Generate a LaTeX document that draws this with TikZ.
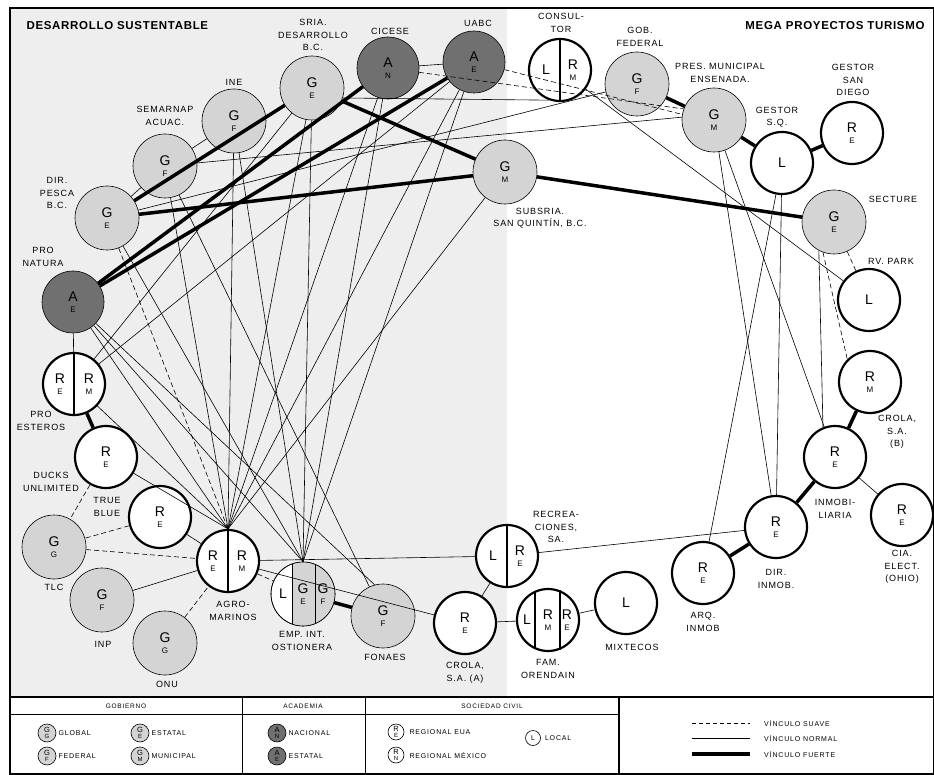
\documentclass[tikz,border=0pt]{standalone}
\usepackage{fontspec}
\setmainfont{Liberation Sans}
\newfontfamily\etfont[LetterSpace=10]{Liberation Sans}
\newfontfamily\titfont[LetterSpace=6]{Liberation Sans}
\newfontfamily\leyfont[LetterSpace=12]{Liberation Sans}
\usepackage{tikz}
\usetikzlibrary{positioning}
\definecolor{fondo}{RGB}{238,238,238}
\definecolor{gobgris}{RGB}{212,212,212}
\definecolor{acagris}{RGB}{112,112,112}
\tikzstyle{Gnodo}=[shape=circle,draw=black,line width=0.6pt,fill=gobgris,minimum size=64pt,inner sep=0pt]
\tikzstyle{Anodo}=[shape=circle,draw=black,line width=0.6pt,fill=acagris,minimum size=62pt,inner sep=0pt]
\tikzstyle{Snodo}=[shape=circle,draw=black,line width=2.2pt,fill=white,minimum size=62pt,inner sep=0pt]
\tikzstyle{etiqueta}=[font=\etfont\fontsize{9}{12.5}\selectfont,align=center,inner sep=0pt]
\tikzstyle{titulo}=[font=\titfont\bfseries\fontsize{11.5}{13}\selectfont]
\tikzstyle{leyenda}=[font=\leyfont\fontsize{7}{8}\selectfont,inner sep=1pt]
\tikzstyle{cabecera}=[font=\leyfont\fontsize{6.5}{8}\selectfont,inner sep=1pt]
\tikzstyle{vsuave}=[dash pattern=on 5pt off 3pt,line width=0.6pt]
\tikzstyle{vnormal}=[line width=0.6pt]
\tikzstyle{vfuerte}=[line width=3.5pt]
\tikzstyle{division}=[line width=1.2pt]
\newcommand{\gletra}[2]{\shortstack{{\fontsize{14}{14}\selectfont #1}\\[2pt]{\fontsize{8}{8}\selectfont #2}}}
\newcommand{\minil}[2]{\shortstack{{\fontsize{7.5}{7.5}\selectfont #1}\\[-0.5pt]{\fontsize{6}{6}\selectfont #2}}}

\begin{document}
\begin{tikzpicture}[x=1pt,y=-1pt]
\useasboundingbox (0,0) rectangle (934,775);
\fill[fondo] (10,8) rectangle (507,697);
\draw[line width=2pt] (10,8) rectangle (934,774);

\node[titulo,anchor=west] (tizq) at (23,26) {DESARROLLO SUSTENTABLE};
\node[titulo,anchor=east] (tder) at (928,26) {MEGA PROYECTOS TURISMO};

% desarrollo sustentable
\node[Gnodo] (sria) at (312,88){\gletra{G}{E}};
\node[Anodo] (cicese) at (388,68){\gletra{A}{N}};
\node[Anodo] (uabc) at (474,62){\gletra{A}{E}};
\node[Gnodo] (ine) at (234,121){\gletra{G}{F}};
\node[Gnodo] (semar) at (165,166){\gletra{G}{F}};
\node[Gnodo] (dirpes) at (107,218){\gletra{G}{E}};
\node[Anodo] (pronat) at (73,302){\gletra{A}{E}};
\node[Snodo] (proest) at (74,384){};
\node[Snodo] (ducks) at (106,457){\gletra{R}{E}};
\node[Snodo] (trueb) at (160,517){\gletra{R}{E}};
\node[Gnodo] (tlc) at (54,547){\gletra{G}{G}};
\node[Gnodo] (inp) at (102,600){\gletra{G}{F}};
\node[Gnodo] (onu) at (165,643){\gletra{G}{G}};
\node[Snodo] (agro) at (228,561){};
\node[Snodo,line width=0.6pt,minimum size=64pt] (empint) at (303,594){};
\node[Gnodo] (fonaes) at (383,616){\gletra{G}{F}};
\node[Snodo] (crolaa) at (465,623){\gletra{R}{E}};
\node[Snodo] (recrea) at (507,556){};
\node[Gnodo] (subsria) at (505,172){\gletra{G}{M}};

% mega proyectos
\node[Snodo] (consul) at (560,70){};
\node[Gnodo] (gobfed) at (637,84){\gletra{G}{F}};
\node[Gnodo] (presmun) at (714,120){\gletra{G}{M}};
\node[Snodo] (gestsq) at (782,163){\fontsize{14}{14}\selectfont L};
\node[Snodo] (gestsd) at (852,133){\gletra{R}{E}};
\node[Gnodo] (secture) at (834,222){\gletra{G}{E}};
\node[Snodo] (rvpark) at (869,300){\fontsize{14}{14}\selectfont L};
\node[Snodo] (crolab) at (870,382){\gletra{R}{M}};
\node[Snodo] (inmob) at (835,457){\gletra{R}{E}};
\node[Snodo] (ciaelec) at (902,515){\gletra{R}{E}};
\node[Snodo] (dirinm) at (776,527){\gletra{R}{E}};
\node[Snodo] (arqinm) at (703,573){\gletra{R}{E}};
\node[Snodo] (mixt) at (626,603){\fontsize{14}{14}\selectfont L};
\node[Snodo] (famor) at (548,620){};

% nodos divididos
\draw[division] (proest.north) -- (proest.south);
\node at ([xshift=-14pt]proest.center) {\gletra{R}{E}};
\node at ([xshift=15pt]proest.center) {\gletra{R}{M}};
\draw[division] (agro.north) -- (agro.south);
\node at ([xshift=-15pt]agro.center) {\gletra{R}{E}};
\node at ([xshift=14pt]agro.center) {\gletra{R}{M}};
\draw[division] (consul.north) -- (consul.south);
\node at ([xshift=-14pt]consul.center) {\fontsize{14}{14}\selectfont L};
\node at ([xshift=13pt]consul.center) {\gletra{R}{M}};
\draw[division] (recrea.north) -- (recrea.south);
\node at ([xshift=-14pt]recrea.center) {\fontsize{14}{14}\selectfont L};
\node at ([xshift=13pt]recrea.center) {\gletra{R}{E}};
\draw[division] (535,590.8) -- (535,649.2);
\draw[division] (560,590.3) -- (560,649.7);
\node at ([xshift=-21pt]famor.center) {\fontsize{14}{14}\selectfont L};
\node at ([xshift=0pt]famor.center) {\gletra{R}{M}};
\node at ([xshift=19pt]famor.center) {\gletra{R}{E}};
\begin{scope}
\clip (303,594) circle (31.7);
\fill[gobgris] (292,560) rectangle (340,630);
\end{scope}
\draw[line width=0.6pt] (303,594) circle (32);
\draw[line width=1pt] (292,564) -- (292,624);
\draw[line width=1pt] (315,564.3) -- (315,623.7);
\node at ([xshift=-20pt]empint.center) {\fontsize{14}{14}\selectfont L};
\node at ([xshift=0pt]empint.center) {\gletra{G}{E}};
\node at ([xshift=20pt]empint.center) {\gletra{G}{F}};

% etiquetas
\node[etiqueta] (lsria) at (313,35) {SRIA.\\DESARROLLO\\B.C.};
\node[etiqueta] (lcicese) at (390,31) {CICESE};
\node[etiqueta] (luabc) at (478,23) {UABC};
\node[etiqueta] (line) at (234,82) {INE};
\node[etiqueta] (lsemar) at (165,116) {SEMARNAP\\ACUAC.};
\node[etiqueta] (ldirpes) at (57,193) {DIR.\\PESCA\\B.C.};
\node[etiqueta] (lpronat) at (43,257) {PRO\\NATURA};
\node[etiqueta] (lproest) at (41,421) {PRO\\ESTEROS};
\node[etiqueta] (lducks) at (51,482) {DUCKS\\UNLIMITED};
\node[etiqueta] (ltrueb) at (107,507) {TRUE\\BLUE};
\node[etiqueta] (ltlc) at (54,587) {TLC};
\node[etiqueta] (linp) at (103,644) {INP};
\node[etiqueta] (lonu) at (167,684) {ONU};
\node[etiqueta] (lagro) at (233,611) {AGRO-\\MARINOS};
\node[etiqueta] (lempint) at (302,641) {EMP. INT.\\OSTIONERA};
\node[etiqueta] (lfonaes) at (385,657) {FONAES};
\node[etiqueta] (lcrolaa) at (465,673) {CROLA,\\S.A. (A)};
\node[etiqueta] (lrecrea) at (556,527) {RECREA-\\CIONES,\\SA.};
\node[etiqueta] (lsubsria) at (540,218) {SUBSRIA.\\SAN QUINTÍN, B.C.};
\node[etiqueta] (lconsul) at (561,23) {CONSUL-\\TOR};
\node[etiqueta] (lgobfed) at (640,37) {GOB.\\FEDERAL};
\node[etiqueta] (lpresmun) at (720,73) {PRES. MUNICIPAL\\ENSENADA.};
\node[etiqueta] (lgestsq) at (777,117) {GESTOR\\S.Q.};
\node[etiqueta] (lgestsd) at (853,80) {GESTOR\\SAN\\DIEGO};
\node[etiqueta] (lsecture) at (893,199) {SECTURE};
\node[etiqueta] (lrvpark) at (891,261) {RV. PARK};
\node[etiqueta] (lcrolab) at (897,432) {CROLA,\\S.A.\\(B)};
\node[etiqueta] (linmob) at (835,509) {INMOBI-\\LIARIA};
\node[etiqueta] (lciaelec) at (902,567) {CIA.\\ELECT.\\(OHIO)};
\node[etiqueta] (ldirinm) at (776,579) {DIR.\\INMOB.};
\node[etiqueta] (larqinm) at (703,622) {ARQ.\\INMOB};
\node[etiqueta] (lmixt) at (632,647) {MIXTECOS};
\node[etiqueta] (lfamor) at (548,669) {FAM.\\ORENDAIN};

\path
% vinculos fuertes
(dirpes) edge[vfuerte] (sria)
(dirpes) edge[vfuerte] (subsria)
(pronat) edge[vfuerte] (cicese)
(pronat) edge[vfuerte] (uabc)
(sria) edge[vfuerte] (subsria)
(subsria) edge[vfuerte] (secture)
(gobfed) edge[vfuerte] (presmun)
(presmun) edge[vfuerte] (gestsq)
(gestsq) edge[vfuerte] (gestsd)
(crolab) edge[vfuerte] (inmob)
(inmob) edge[vfuerte] (dirinm)
(dirinm) edge[vfuerte] (arqinm)
(proest) edge[vfuerte] (ducks)
(empint) edge[vfuerte] (fonaes)

% vinculos cortos
(cicese) edge[vnormal] (uabc)
(ine) edge[vnormal] (semar)
(semar) edge[vnormal] (dirpes)
(pronat) edge[vnormal] (proest)
(inmob) edge[vnormal] (ciaelec)
(recrea) edge[vnormal] (crolaa)
(crolaa) edge[vnormal] (famor)
(famor) edge[vnormal] (mixt)
(recrea) edge[vnormal] (dirinm)
(agro) edge[vnormal] (recrea)
(agro) edge[vnormal] (crolaa)
(trueb) edge[vnormal] (agro)
(inp) edge[vnormal] (agro)
(ducks) edge[vsuave] (tlc)
(trueb) edge[vsuave] (tlc)
(tlc) edge[vsuave] (agro)
(onu) edge[vsuave] (agro)
(agro) edge[vsuave] (empint)

% turismo
(secture) edge[vsuave] (rvpark)
(secture.250) edge[vsuave] (crolab.135)
(secture.242) edge[vnormal] (inmob.112)
(consul) edge[vnormal] (rvpark)
(presmun) edge[vnormal] (dirinm)
(presmun) edge[vnormal] (inmob)
(gestsq) edge[vnormal] (arqinm)
(gestsq) edge[vnormal] (dirinm)
(sria.-18) edge[vnormal] (consul.250)
(cicese) edge[vsuave] (presmun.160)
(uabc) edge[vsuave] (presmun.170)
(dirpes) edge[vnormal] (gobfed)
(semar) edge[vnormal] (presmun.175)

% hacia agro-marinos
(proest) edge[vnormal] (agro.north)
(ducks) edge[vnormal] (agro.north)
(pronat) edge[vnormal] (agro.north)
(dirpes) edge[vsuave] (agro.north)
(semar) edge[vnormal] (agro.north)
(ine) edge[vnormal] (agro.north)
(sria) edge[vnormal] (agro.north)
(cicese) edge[vnormal] (agro.north)
(uabc) edge[vnormal] (agro.north)
(subsria) edge[vnormal] (agro.north)

% hacia emp. int. ostionera
(pronat) edge[vnormal] (empint.north)
(dirpes) edge[vnormal] (empint.north)
(ine) edge[vnormal] (empint.north)
(sria) edge[vnormal] (empint.north)
(cicese) edge[vnormal] (empint.north)
(uabc) edge[vnormal] (empint.north)
(semar) edge[vnormal] (fonaes.115)
(pronat) edge[vnormal] (fonaes.105)
(proest) edge[vnormal] (uabc)
(proest) edge[vnormal] (sria)
;

% leyenda
\draw[line width=1.5pt] (10,697) -- (934,697);
\draw[line width=0.8pt] (10,714) -- (619,714);
\draw[line width=0.8pt] (242,697) -- (242,774);
\draw[line width=0.8pt] (365,697) -- (365,774);
\draw[line width=1.2pt] (619,697) -- (619,774);
\node[cabecera] (hgob) at (126,706) {GOBIERNO};
\node[cabecera] (haca) at (303,706) {ACADEMIA};
\node[cabecera] (hsoc) at (492,706) {SOCIEDAD CIVIL};

\node[Gnodo,minimum size=18pt] (lgg) at (47,733){\minil{G}{G}};
\node[leyenda,right=1pt of lgg] {GLOBAL};
\node[Gnodo,minimum size=18pt] (lgf) at (47,756){\minil{G}{F}};
\node[leyenda,right=1pt of lgf] {FEDERAL};
\node[Gnodo,minimum size=18pt] (lge) at (140,733){\minil{G}{E}};
\node[leyenda,right=1pt of lge] {ESTATAL};
\node[Gnodo,minimum size=18pt] (lgm) at (140,756){\minil{G}{M}};
\node[leyenda,right=1pt of lgm] {MUNICIPAL};
\node[Anodo,minimum size=18pt] (lan) at (277,733){\minil{A}{N}};
\node[leyenda,right=1pt of lan] {NACIONAL};
\node[Anodo,minimum size=18pt] (lae) at (277,756){\minil{A}{E}};
\node[leyenda,right=1pt of lae] {ESTATAL};
\node[Snodo,line width=0.6pt,minimum size=16pt] (lre) at (396,732){\minil{R}{E}};
\node[leyenda,right=4pt of lre] {REGIONAL EUA};
\node[Snodo,line width=0.6pt,minimum size=16pt] (lrn) at (396,755){\minil{R}{N}};
\node[leyenda,right=4pt of lrn] {REGIONAL MÉXICO};
\node[Snodo,line width=0.6pt,minimum size=15pt] (lloc) at (533,738){\fontsize{7}{7}\selectfont L};
\node[leyenda,right=3pt of lloc] {LOCAL};

\coordinate (s1) at (692,723); \coordinate (s2) at (750,723);
\coordinate (n1) at (692,738); \coordinate (n2) at (750,738);
\coordinate (f1) at (692,754); \coordinate (f2) at (750,754);
\draw[vsuave,dash pattern=on 4pt off 3pt] (s1) -- (s2);
\draw[vnormal] (n1) -- (n2);
\draw[vfuerte] (f1) -- (f2);
\node[leyenda,anchor=west] (vs) at (763,723) {VÍNCULO SUAVE};
\node[leyenda,anchor=west] (vn) at (763,738) {VÍNCULO NORMAL};
\node[leyenda,anchor=west] (vf) at (763,754) {VÍNCULO FUERTE};
\end{tikzpicture}
\end{document}
